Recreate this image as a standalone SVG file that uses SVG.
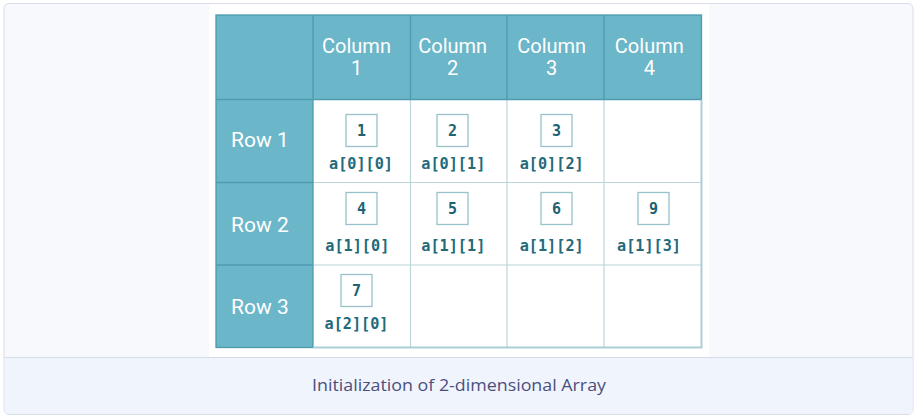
<svg xmlns="http://www.w3.org/2000/svg" width="916" height="419" viewBox="0 0 916 419">
<style>
.hdr{fill:#6cb6c9}
.hl{stroke:#4f9bae;stroke-width:1.3;fill:none}
.cl{stroke:#bcd6da;stroke-width:1.2;fill:none}
.ht{font-family:Roboto,"Liberation Sans",sans-serif;font-size:20px;fill:#ffffff;text-anchor:middle}
.rt{font-family:Roboto,"Liberation Sans",sans-serif;font-size:21px;fill:#ffffff}
.box{fill:#ffffff;stroke:#98c2ca;stroke-width:1.3}
.num{font-family:"DejaVu Sans Mono","Liberation Mono",monospace;font-weight:bold;font-size:15px;fill:#1e6273;text-anchor:middle}
.idx{font-family:"DejaVu Sans Mono","Liberation Mono",monospace;font-weight:bold;font-size:15.2px;fill:#236a7b;text-anchor:middle}
.cap{font-family:"Open Sans","Noto Sans",sans-serif;font-size:17px;fill:#4c4f7e;text-anchor:middle}
</style>
<g id="card">
<rect x="4" y="3.5" width="909" height="411" rx="5" fill="#f8f9fc" stroke="#d9dde8" stroke-width="1"/>
<rect x="209" y="4" width="500" height="353" fill="#ffffff"/>
<path d="M4.5 357.5 H912.5 V410 a4 4 0 0 1 -4 4 H8.5 a4 4 0 0 1 -4 -4 Z" fill="#f0f4fd"/>
<line x1="4.5" y1="357.5" x2="912.5" y2="357.5" stroke="#d6dbe8" stroke-width="1"/>
</g>
<g id="table">
<rect class="hdr" x="216" y="15" width="485.5" height="84.5"/>
<rect class="hdr" x="216" y="99.5" width="97" height="248"/>
<rect x="313" y="99.5" width="388.5" height="248" fill="#ffffff"/>
<path class="cl" d="M410.5 99.5 V347.5 M507 99.5 V347.5 M604 99.5 V347.5 M313 182.5 H701.5 M313 265 H701.5 M701.5 99.5 V347.5"/>
<path class="hl" d="M313 15 V347.5 M410.5 15 V99.5 M507 15 V99.5 M604 15 V99.5 M216 99.5 H701.5 M216 182.5 H313 M216 265 H313"/>
<rect x="216" y="15" width="485.5" height="332.5" fill="none" stroke="#4f9bae" stroke-width="1.3"/>
<path d="M313 347.5 H701.5 V99.5" fill="none" stroke="#a9cdd3" stroke-width="1.3"/>
</g>
<g id="headers">
<text class="ht" x="356.5" y="52.5">Column</text><text class="ht" x="356.5" y="74.5">1</text>
<text class="ht" x="452.7" y="52.5">Column</text><text class="ht" x="452.7" y="74.5">2</text>
<text class="ht" x="551.7" y="52.5">Column</text><text class="ht" x="551.7" y="74.5">3</text>
<text class="ht" x="649.3" y="52.5">Column</text><text class="ht" x="649.3" y="74.5">4</text>
<text class="rt" x="231" y="147">Row 1</text>
<text class="rt" x="231" y="232">Row 2</text>
<text class="rt" x="231" y="314">Row 3</text>
</g>
<g id="cell-0-0"><rect class="box" x="346" y="114.5" width="31" height="32"/><text class="num" x="361.5" y="136">1</text><text class="idx" x="361" y="169">a[0][0]</text></g>
<g id="cell-0-1"><rect class="box" x="437" y="114.5" width="31" height="32"/><text class="num" x="452.5" y="136">2</text><text class="idx" x="453.3" y="169">a[0][1]</text></g>
<g id="cell-0-2"><rect class="box" x="541" y="114.5" width="31" height="32"/><text class="num" x="556.5" y="136">3</text><text class="idx" x="551.7" y="169">a[0][2]</text></g>
<g id="cell-1-0"><rect class="box" x="346" y="192.5" width="31" height="32"/><text class="num" x="361.5" y="214">4</text><text class="idx" x="357.3" y="251">a[1][0]</text></g>
<g id="cell-1-1"><rect class="box" x="437" y="192.5" width="31" height="32"/><text class="num" x="452.5" y="214">5</text><text class="idx" x="453.3" y="251">a[1][1]</text></g>
<g id="cell-1-2"><rect class="box" x="541" y="192.5" width="31" height="32"/><text class="num" x="556.5" y="214">6</text><text class="idx" x="551.7" y="251">a[1][2]</text></g>
<g id="cell-1-3"><rect class="box" x="638" y="192.5" width="31" height="32"/><text class="num" x="653.5" y="214">9</text><text class="idx" x="649" y="251">a[1][3]</text></g>
<g id="cell-2-0"><rect class="box" x="341" y="274.5" width="31" height="32"/><text class="num" x="356.5" y="296">7</text><text class="idx" x="356.5" y="328.5">a[2][0]</text></g>
<g id="caption"><text class="cap" x="459" y="390.5" textLength="294" lengthAdjust="spacingAndGlyphs">Initialization of 2-dimensional Array</text></g>
</svg>
